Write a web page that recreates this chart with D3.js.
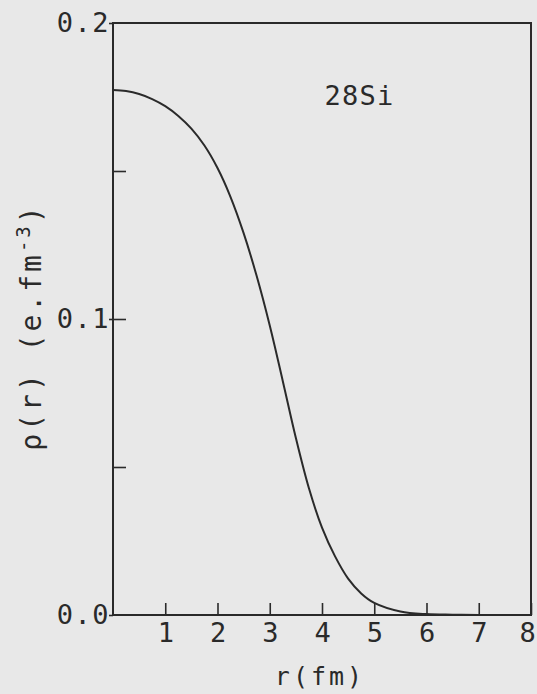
<!DOCTYPE html>
<html>
<head>
<meta charset="utf-8">
<script src="https://cdn.jsdelivr.net/npm/d3@7"></script>
<style>
  body { margin: 0; background: #e8e8e8; }
  svg { display: block; }
  text { font-family: "DejaVu Sans Mono", monospace; fill: #2a2a2a; }
</style>
</head>
<body>
<script>
// charge density of 28Si
const rValues = [0, 0.25, 0.5, 0.75, 1.0, 1.25, 1.5, 1.75, 2.0, 2.25, 2.5, 2.75, 3.0, 3.25, 3.5, 3.75, 4.0, 4.25, 4.5, 4.75, 5.0, 5.5, 6.0, 6.5, 7.0, 8.0]
const rhoValues = [0.1774, 0.1770, 0.1760, 0.1743, 0.1719, 0.1686, 0.1643, 0.1586, 0.1510, 0.1412, 0.1290, 0.1145, 0.0978, 0.0790, 0.0598, 0.0428, 0.0295, 0.0198, 0.0123, 0.0073, 0.0041, 0.0012, 0.0003, 0.0001, 0, 0]
const xTicks = [1, 2, 3, 4, 5, 6, 7, 8]
const yLabels = [0.0, 0.1, 0.2]
const yMinor = [0.05, 0.1, 0.15]
const nucleus = '28Si'

const width = 537, height = 694
const ink = '#2a2a2a'

const x = d3.scaleLinear().domain([0, 8]).range([113, 531])
const y = d3.scaleLinear().domain([0, 0.2]).range([615, 23])

const svg = d3.select('body').append('svg')
  .attr('width', width)
  .attr('height', height)

svg.append('rect')
  .attr('width', width).attr('height', height)
  .attr('fill', '#e8e8e8')

// x axis: ticks point inward, labels below
const xAxis = svg.append('g')
  .attr('transform', 'translate(0,' + y(0) + ')')
  .call(d3.axisBottom(x).tickValues(xTicks).tickSizeInner(-12).tickSizeOuter(0).tickPadding(20).tickFormat(d3.format('d')))
xAxis.select('.domain').remove()
xAxis.selectAll('line').attr('stroke', ink).attr('stroke-width', 1.6)
xAxis.selectAll('text')
  .attr('font-size', 27)
  .attr('dy', '0.71em')
  .attr('y', 8)
  .attr('dx', d => d === 8 ? -4 : 0)

// y axis minor/major inward ticks
const yTickAxis = svg.append('g')
  .attr('transform', 'translate(' + x(0) + ',0)')
  .call(d3.axisLeft(y).tickValues(yMinor).tickSizeInner(-13).tickSizeOuter(0).tickFormat(''))
yTickAxis.select('.domain').remove()
yTickAxis.selectAll('line').attr('stroke', ink).attr('stroke-width', 1.6)

// y labels with a short outward tick
const yLabelAxis = svg.append('g')
  .attr('transform', 'translate(' + x(0) + ',0)')
  .call(d3.axisLeft(y).tickValues(yLabels).tickSizeInner(4).tickSizeOuter(0).tickPadding(-1).tickFormat(d3.format('.1f')))
yLabelAxis.select('.domain').remove()
yLabelAxis.selectAll('line').attr('stroke', ink).attr('stroke-width', 1.6)
yLabelAxis.selectAll('text')
  .attr('font-size', 27)
  .attr('letter-spacing', 1.5)

// frame
svg.append('rect')
  .attr('x', x(0)).attr('y', y(0.2))
  .attr('width', x(8) - x(0)).attr('height', y(0) - y(0.2))
  .attr('fill', 'none')
  .attr('stroke', ink)
  .attr('stroke-width', 2)

// density curve
const line = d3.line()
  .x((d, i) => x(rValues[i]))
  .y(d => y(d))
  .curve(d3.curveCatmullRom.alpha(0.5))

svg.append('path')
  .datum(rhoValues)
  .attr('d', line)
  .attr('fill', 'none')
  .attr('stroke', ink)
  .attr('stroke-width', 2)

// nucleus label
svg.append('text')
  .attr('x', x(4.05)).attr('y', y(0.1723))
  .attr('font-size', 27)
  .attr('letter-spacing', 1.2)
  .text(nucleus)

// axis titles
svg.append('text')
  .attr('x', (x(0) + x(8)) / 2 - 2).attr('y', 685)
  .attr('text-anchor', 'middle')
  .attr('font-size', 25)
  .attr('letter-spacing', 3)
  .text('r(fm)')

const yTitle = svg.append('text')
  .attr('transform', 'translate(41,' + ((y(0) + y(0.2)) / 2 + 8) + ') rotate(-90)')
  .attr('text-anchor', 'middle')
  .attr('font-size', 28)
  .attr('letter-spacing', 3)
yTitle.append('tspan').text('ρ(r) (e.fm')
yTitle.append('tspan').attr('font-size', 19).attr('dy', -11).text('-3')
yTitle.append('tspan').attr('dy', 11).text(')')
</script>
</body>
</html>
